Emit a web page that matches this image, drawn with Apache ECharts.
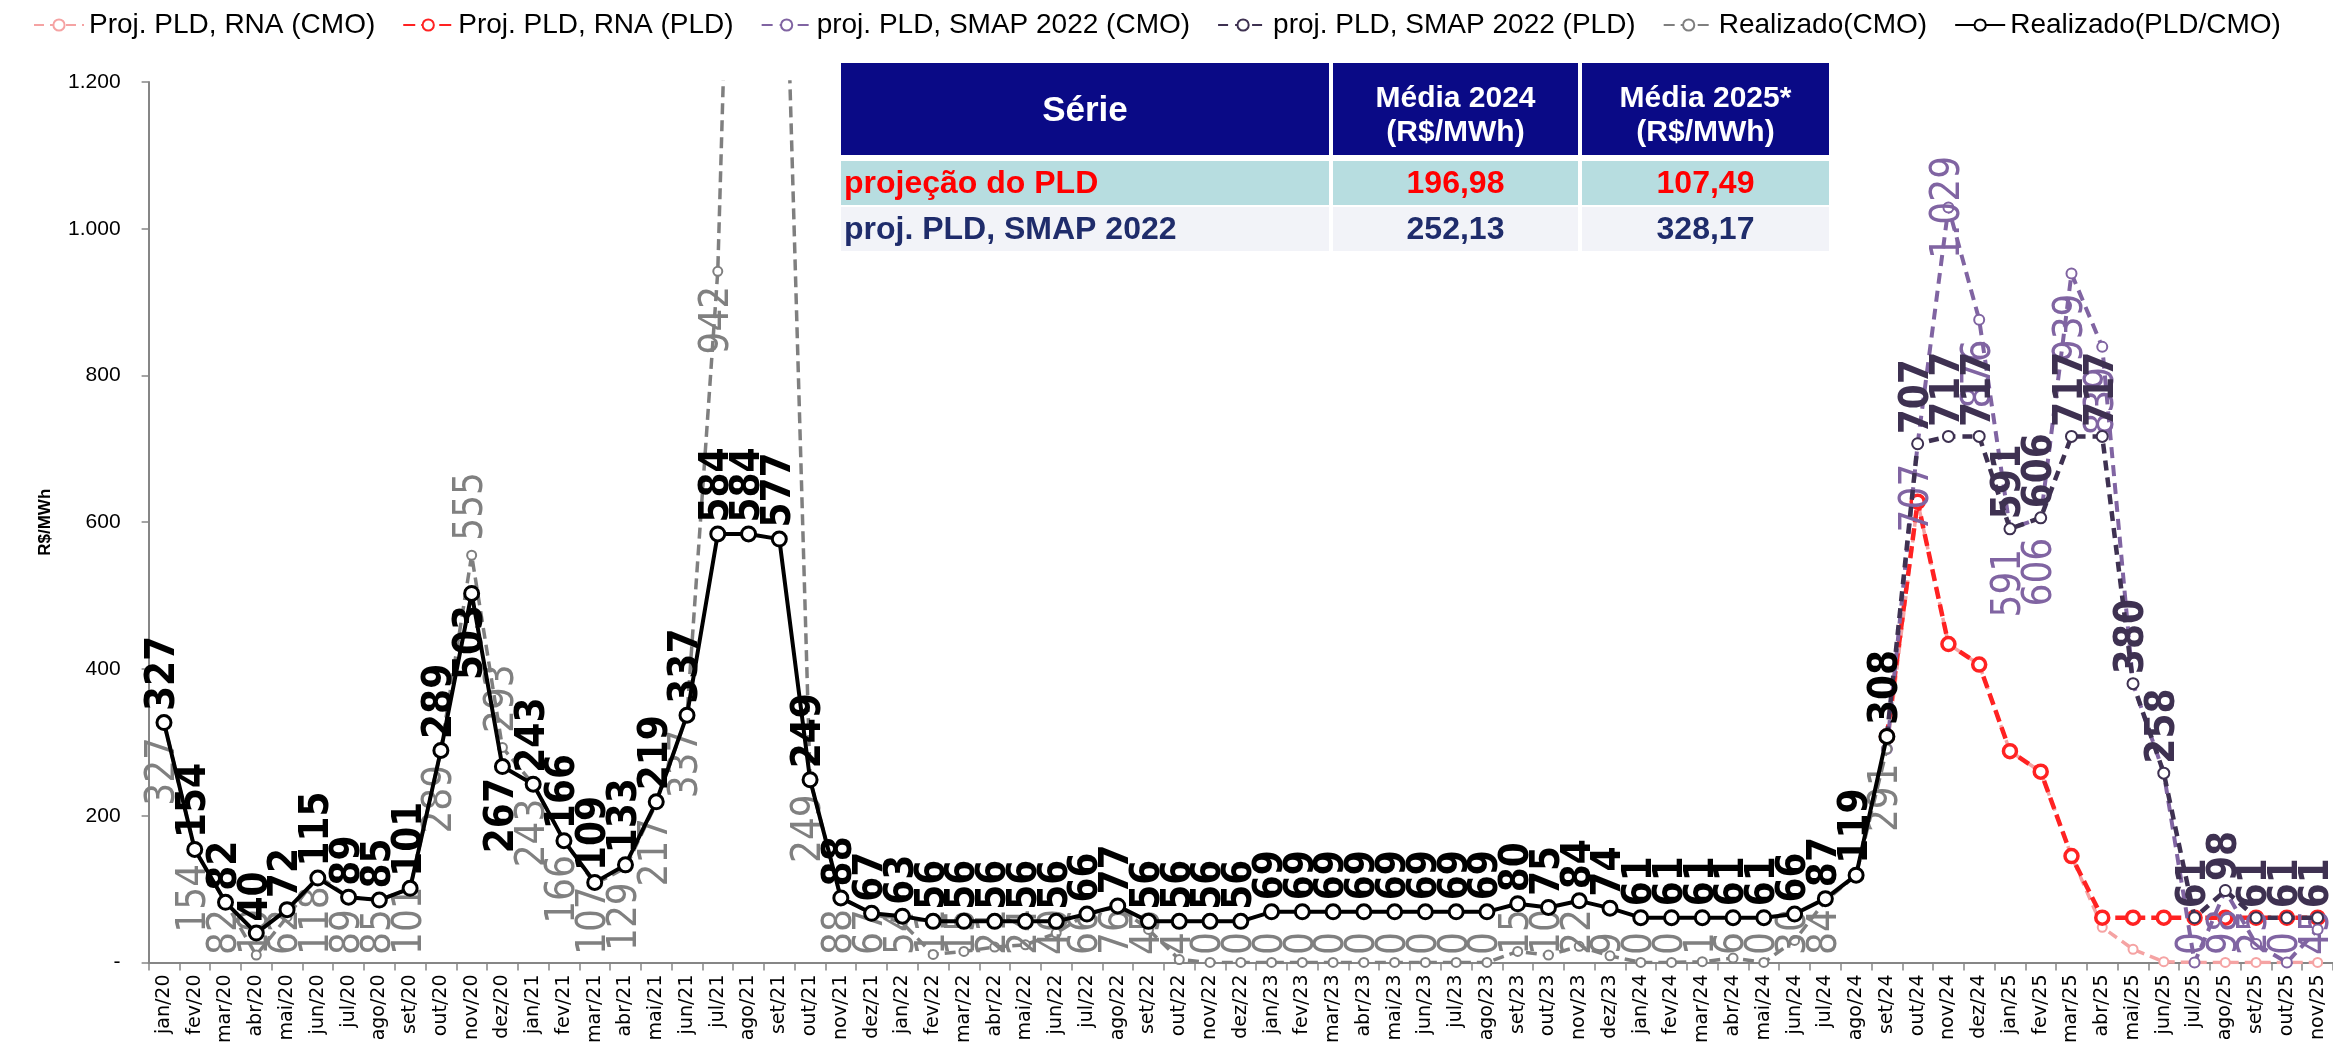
<!DOCTYPE html>
<html><head><meta charset="utf-8">
<script src="https://cdn.jsdelivr.net/npm/echarts@6/dist/echarts.min.js"></script>
<style>html,body{margin:0;padding:0;background:#fff}#c{width:2333px;height:1046px}</style>
</head><body><div id="c"></div>
<script>
const categories = [
 'jan/20','fev/20','mar/20','abr/20','mai/20','jun/20','jul/20','ago/20','set/20','out/20','nov/20','dez/20',
 'jan/21','fev/21','mar/21','abr/21','mai/21','jun/21','jul/21','ago/21','set/21','out/21','nov/21','dez/21',
 'jan/22','fev/22','mar/22','abr/22','mai/22','jun/22','jul/22','ago/22','set/22','out/22','nov/22','dez/22',
 'jan/23','fev/23','mar/23','abr/23','mai/23','jun/23','jul/23','ago/23','set/23','out/23','nov/23','dez/23',
 'jan/24','fev/24','mar/24','abr/24','mai/24','jun/24','jul/24','ago/24','set/24','out/24','nov/24','dez/24',
 'jan/25','fev/25','mar/25','abr/25','mai/25','jun/25','jul/25','ago/25','set/25','out/25','nov/25'];

// Realizado (jan/20 .. set/24)
const realizadoPLD = [
 327,154,82,40,72,115,89,85,101,289,503,267,
 243,166,109,133,219,337,584,584,577,249,88,67,
 63,56,56,56,56,56,66,77,56,56,56,56,
 69,69,69,69,69,69,69,69,80,75,84,74,
 61,61,61,61,61,66,87,119,308];
const realizadoCMO = [
 327,154,82,10,62,118,89,85,101,289,555,293,
 243,166,107,129,217,337,942,2400,1700,249,88,67,
 54,11,15,21,24,40,66,76,45,4,0,0,
 0,0,0,0,0,0,0,0,15,10,22,9,
 0,0,1,6,0,30,84,119,291];

// Projections (set/24 .. nov/25)
const projStart = 56;
const rnaCMO  = [291,628,434,406,288,260,145,48,18,1,0,0,0,0,0];
const rnaPLD  = [308,628,434,406,288,260,145,61,61,61,61,61,61,61,61];
const smapCMO = [291,707,1029,876,591,606,939,839,380,258,0,98,25,0,45];
const smapPLD = [308,707,717,717,591,606,717,717,380,258,61,98,61,61,61];

const tableHeader = ['Série','Média 2024\n(R$/MWh)','Média 2025*\n(R$/MWh)'];
const tableRow1 = ['projeção do PLD','196,98','107,49'];
const tableRow2 = ['proj. PLD, SMAP 2022','252,13','328,17'];

function fmt(v){
  if (v == null) return '';
  if (v >= 1000) return Math.floor(v/1000) + '.' + String(v % 1000).padStart(3,'0');
  return String(v);
}
function padProj(arr){
  const out = new Array(categories.length).fill(null);
  arr.forEach((v,i)=>{ out[projStart+i] = v; });
  return out;
}
function padReal(arr){
  const out = new Array(categories.length).fill(null);
  arr.forEach((v,i)=>{ out[i] = v; });
  return out;
}
function withLabels(values, overrides){
  return values.map((v,i)=> overrides[i] ? {value:v, label: overrides[i]} : v);
}

const NARROW = '"Liberation Sans Narrow","DejaVu Sans Condensed","Liberation Sans",sans-serif';
const GRID_TOP = 82, GRID_H = 882;
const GRID_BOTTOM = GRID_TOP + GRID_H;

// keep rotated labels inside the plot area (like the spreadsheet does)
function clampLayout(p){
  const r = p.labelRect;
  const lim = GRID_BOTTOM - 9;
  const over = r.y + r.height - lim;
  if (over > 0) return {dx: over};
  return {};
}

const above = {position:'top', align:'left', verticalAlign:'middle'};
const below = {position:'bottom', align:'right', verticalAlign:'middle'};
const centered = {position:'inside', align:'center', verticalAlign:'middle'};

const chart = echarts.init(document.getElementById('c'), null, {renderer:'canvas'});

const baseLabel = {show:true, rotate:90, fontFamily:NARROW, fontSize:40, formatter:p=>fmt(p.value)};

const option = {
  animation:false,
  backgroundColor:'#fff',
  legend:{
    top:6, left:28, itemWidth:50, itemHeight:14, itemGap:27,
    textStyle:{fontFamily:'"Liberation Sans",sans-serif', fontSize:28, color:'#000'},
    data:['Proj. PLD, RNA (CMO)','Proj. PLD, RNA (PLD)','proj. PLD, SMAP 2022 (CMO)','proj. PLD, SMAP 2022 (PLD)','Realizado(CMO)','Realizado(PLD/CMO)']
  },
  grid:{left:148.6, top:GRID_TOP, width:71*30.84, height:GRID_H, containLabel:false},
  xAxis:{
    type:'category', data:categories, boundaryGap:true,
    axisLine:{lineStyle:{color:'#868686', width:2}},
    axisTick:{show:true, interval:0, length:8, lineStyle:{color:'#868686', width:1.5}},
    axisLabel:{interval:0, rotate:90, margin:12, fontFamily:'"DejaVu Sans",sans-serif', fontSize:19, color:'#000'}
  },
  yAxis:{
    type:'value', min:0, max:1200, interval:200,
    axisLine:{show:true, lineStyle:{color:'#868686', width:2}},
    axisTick:{show:true, length:7, lineStyle:{color:'#868686', width:1.5}},
    splitLine:{show:false},
    axisLabel:{margin:28, fontFamily:'"Liberation Sans",sans-serif', fontSize:21, color:'#000',
      formatter:v=> v===0 ? '-' : fmt(v)},
    name:'R$/MWh', nameLocation:'middle', nameGap:95, nameRotate:90,
    nameTextStyle:{fontFamily:'"Liberation Sans",sans-serif', fontWeight:'bold', fontSize:17, color:'#000'}
  },
  graphic: [],
  series:[
    {name:'Proj. PLD, RNA (CMO)', type:'line', data:padProj(rnaCMO), showAllSymbol:true,
     symbol:'circle', symbolSize:9,
     lineStyle:{color:'#f5a3a3', width:3.5, type:[10,6]},
     itemStyle:{color:'#fff', borderColor:'#f5a3a3', borderWidth:2}, z:2},
    {name:'Proj. PLD, RNA (PLD)', type:'line', data:padProj(rnaPLD), showAllSymbol:true,
     symbol:'circle', symbolSize:13,
     lineStyle:{color:'#ff2222', width:4.5, type:[12,6]},
     itemStyle:{color:'#fff', borderColor:'#ff2222', borderWidth:3.5}, z:3},
    {name:'proj. PLD, SMAP 2022 (CMO)', type:'line', showAllSymbol:true,
     data:withLabels(padProj(smapCMO), {56:{show:false},58:centered,64:{show:false},65:{show:false}}),
     symbol:'circle', symbolSize:10,
     lineStyle:{color:'#8064a2', width:4, type:[11,7]},
     itemStyle:{color:'#fff', borderColor:'#8064a2', borderWidth:2},
     label:Object.assign({}, baseLabel, below, {distance:14, color:'#8064a2'}),
     labelLayout:clampLayout, z:4},
    {name:'proj. PLD, SMAP 2022 (PLD)', type:'line', showAllSymbol:true,
     data:withLabels(padProj(smapPLD), {56:{show:false}}),
     symbol:'circle', symbolSize:11,
     lineStyle:{color:'#3e3151', width:4.5, type:[10,7]},
     itemStyle:{color:'#fff', borderColor:'#3e3151', borderWidth:2},
     label:Object.assign({}, baseLabel, above, {distance:3, color:'#3e3151', fontWeight:'bold'}), z:5},
    {name:'Realizado(CMO)', type:'line', showAllSymbol:true,
     data:withLabels(padReal(realizadoCMO), {10:above, 11:above, 55:{show:false}}),
     symbol:'circle', symbolSize:9,
     lineStyle:{color:'#7f7f7f', width:3.5, type:[11,6]},
     itemStyle:{color:'#fff', borderColor:'#7f7f7f', borderWidth:2},
     label:Object.assign({}, baseLabel, below, {distance:9, color:'#808080'}),
     labelLayout:clampLayout, z:6},
    {name:'Realizado(PLD/CMO)', type:'line', showAllSymbol:true,
     data:withLabels(padReal(realizadoPLD), {10:below, 11:below}),
     symbol:'circle', symbolSize:14,
     lineStyle:{color:'#000', width:4},
     itemStyle:{color:'#fff', borderColor:'#000', borderWidth:3},
     label:Object.assign({}, baseLabel, above, {distance:3, color:'#000', fontWeight:'bold'}), z:7}
  ]
};

// table drawn with graphic elements
const cols = [[841,1329],[1333,1578],[1582,1829]];
const g = [];
cols.forEach((c,i)=>{
  g.push({type:'rect', shape:{x:c[0], y:63, width:c[1]-c[0], height:92}, style:{fill:'#0a0a86'}, z:100});
  g.push({type:'rect', shape:{x:c[0], y:161, width:c[1]-c[0], height:44}, style:{fill:'#b7dde0'}, z:100});
  g.push({type:'rect', shape:{x:c[0], y:207, width:c[1]-c[0], height:44}, style:{fill:'#f2f3f8'}, z:100});
  const cx = (c[0]+c[1])/2;
  g.push({type:'text', x:cx, y: i===0 ? 111 : 116, z:101, style:{text:tableHeader[i], fill:'#fff', align:'center', verticalAlign:'middle',
    fontFamily:'"Liberation Sans",sans-serif', fontWeight:'bold', fontSize: i===0?35:30, lineHeight:34}});
  g.push({type:'text', x: i===0 ? 844 : cx, y:184, z:101, style:{text:tableRow1[i], fill:'#ff0000', align: i===0?'left':'center', verticalAlign:'middle',
    fontFamily:'"Liberation Sans",sans-serif', fontWeight:'bold', fontSize:32}});
  g.push({type:'text', x: i===0 ? 844 : cx, y:230, z:101, style:{text:tableRow2[i], fill:'#1f2c6b', align: i===0?'left':'center', verticalAlign:'middle',
    fontFamily:'"Liberation Sans",sans-serif', fontWeight:'bold', fontSize:32}});
});
option.graphic = g;

chart.setOption(option);
</script>
</body></html>
